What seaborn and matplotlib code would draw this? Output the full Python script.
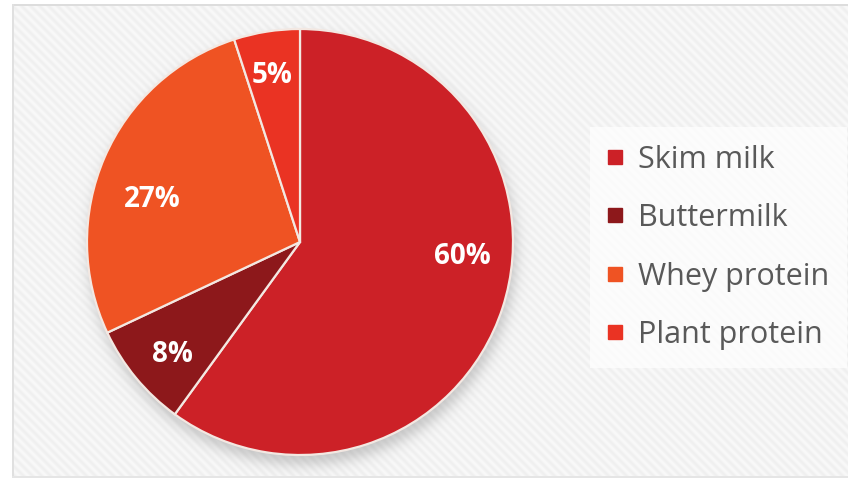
import numpy as np
import matplotlib
matplotlib.use("Agg")
import matplotlib.pyplot as plt
import seaborn as sns
from matplotlib.lines import Line2D

# Protein source shares (%)
categories = ["Skim milk", "Buttermilk", "Whey protein", "Plant protein"]
shares = [60, 8, 27, 5]
colors = ["#cc2127", "#8d181b", "#ef5323", "#ea3323"]

sns.set_theme(style="white")
plt.rcParams["font.family"] = ["Open Sans", "DejaVu Sans"]

W, H = 848, 480
fig = plt.figure(figsize=(W / 100, H / 100), dpi=100, facecolor="white")

# Striped panel background with a soft drop shadow under the pie
cx, cy, R = 300, 242, 213
yy, xx = np.mgrid[0:H, 0:W].astype(float)
wave = 0.5 + 0.5 * np.sin(2 * np.pi * (xx - yy) / 9.0)
val = 0.94 + 0.035 * wave
img = np.ones((H, W, 3))
img[...] = val[..., None]
d = np.hypot(xx - (cx + 2), yy - (cy + 8))
a = 0.36 / (1 + np.exp((d - R - 1) / 4.0))
img = img * (1 - a[..., None]) + 0.45 * a[..., None]
outside = (xx < 12) | (yy < 4) | (yy > 477)
img[outside] = 1.0
img[(yy >= 4) & (yy < 6) & (xx >= 12)] = 0.87
img[(xx >= 12) & (xx < 14) & (yy >= 4) & (yy <= 477)] = 0.88
img[(yy > 475) & (yy <= 477) & (xx >= 12)] = 0.9

bg = fig.add_axes([0, 0, 1, 1], zorder=0)
bg.imshow(img, extent=[0, W, H, 0], aspect="auto", interpolation="bilinear")
bg.set_xlim(0, W)
bg.set_ylim(H, 0)
bg.set_axis_off()

# Pie
ax = fig.add_axes([(cx - R) / W, (H - cy - R) / H, 2 * R / W, 2 * R / H], zorder=2)
wedges, texts, autotexts = ax.pie(
    shares,
    colors=colors,
    startangle=90,
    counterclock=False,
    autopct="%.0f%%",
    wedgeprops=dict(edgecolor="#f3e8e2", linewidth=1.6),
    textprops=dict(color="white", fontsize=20, fontweight="bold"),
)
label_pos = [(0.76, -0.066), (-0.60, -0.53), (-0.695, 0.20), (-0.13, 0.78)]
for t, (px, py) in zip(autotexts, label_pos):
    t.set_position((px, py))
    t.set_ha("center")
    t.set_va("center")
ax.set_xlim(-1, 1)
ax.set_ylim(-1, 1)
ax.set_axis_off()

# Legend
handles = [
    Line2D([], [], marker="s", ls="none", markersize=10,
           markerfacecolor=c, markeredgecolor=c)
    for c in colors
]
leg = fig.legend(
    handles, categories,
    loc="upper left", bbox_to_anchor=(590 / W, 1 - 127 / H),
    borderaxespad=0,
    frameon=True, fancybox=False, framealpha=0.7,
    facecolor="white", edgecolor="none",
    fontsize=22, labelcolor="#595959",
    handlelength=0.5, handletextpad=0.5, labelspacing=0.93, borderpad=0.58,
)
leg.set_zorder(3)

fig.savefig("out.png", dpi=100, facecolor="white")
